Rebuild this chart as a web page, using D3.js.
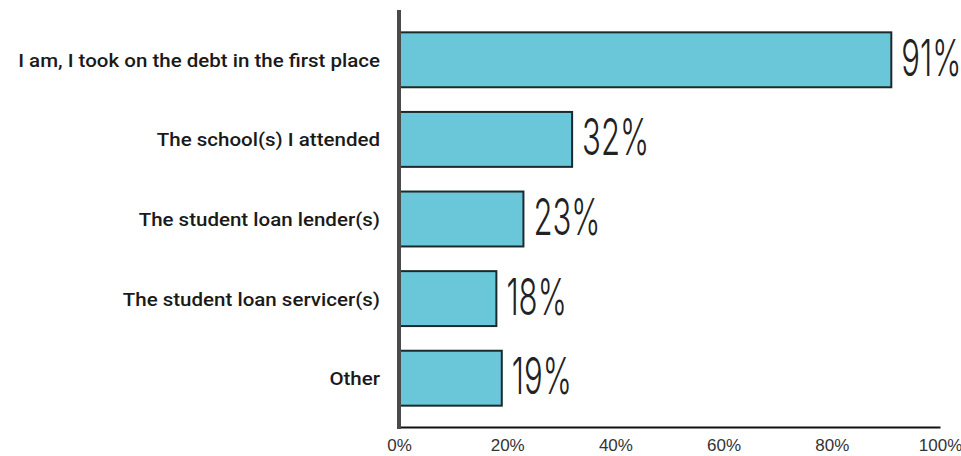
<!DOCTYPE html>
<html>
<head>
<meta charset="utf-8">
<script src="https://cdn.jsdelivr.net/npm/d3@7"></script>
<style>
  html, body { margin: 0; padding: 0; background: #fff; }
  svg { display: block; }
</style>
</head>
<body>
<svg id="chart" width="961" height="456"></svg>
<script>
// Who is responsible for the student debt
const categories = [
  "I am, I took on the debt in the first place",
  "The school(s) I attended",
  "The student loan lender(s)",
  "The student loan servicer(s)",
  "Other"
];
const values = [91, 32, 23, 18, 19];
const tickValues = [0, 20, 40, 60, 80, 100];
const tickLabels = ["0%", "20%", "40%", "60%", "80%", "100%"];

const svg = d3.select("#chart");

const x = d3.scaleLinear().domain([0, 100]).range([399, 940]);
const y = d3.scaleBand()
  .domain(categories)
  .range([20, 418])
  .paddingInner(0.31)
  .paddingOuter(0.155);

// bars
svg.append("g")
  .selectAll("rect")
  .data(values)
  .join("rect")
  .attr("x", x(0))
  .attr("y", (d, i) => y(categories[i]))
  .attr("width", d => x(d) - x(0))
  .attr("height", y.bandwidth())
  .attr("fill", "#6ac6d9")
  .attr("stroke", "#1c2a2b")
  .attr("stroke-width", 2);

// value labels, tall and condensed
svg.append("g")
  .selectAll("text")
  .data(values)
  .join("text")
  .attr("transform", (d, i) =>
    `translate(${x(d) + 10},${y(categories[i]) + y.bandwidth() / 2 + 16}) scale(0.61,1)`)
  .attr("font-family", "Inter, 'Liberation Sans', sans-serif")
  .attr("font-size", 51)
  .attr("font-weight", 300)
  .style("font-variant-numeric", "proportional-nums")
  .attr("fill", "#222")
  .text(d => d + "%");

// category labels
svg.append("g")
  .selectAll("text")
  .data(categories)
  .join("text")
  .attr("transform", d => `translate(380,${y(d) + y.bandwidth() / 2 + 7}) scale(1.08,1)`)
  .attr("text-anchor", "end")
  .attr("font-family", "Roboto, 'Liberation Sans', sans-serif")
  .attr("font-size", 19)
  .attr("font-weight", 500)
  .attr("fill", "#1a1a1a")
  .text(d => d);

// bottom axis
const xAxis = d3.axisBottom(x)
  .tickValues(tickValues)
  .tickSize(0)
  .tickPadding(0)
  .tickFormat((d, i) => tickLabels[i]);

const gx = svg.append("g")
  .attr("transform", "translate(0,427)")
  .call(xAxis);
gx.select(".domain")
  .attr("stroke", "#111")
  .attr("stroke-width", 2);
gx.selectAll(".tick text")
  .attr("y", 24)
  .attr("dy", 0)
  .attr("font-family", "'Liberation Sans', Arial, sans-serif")
  .attr("font-size", 17)
  .attr("fill", "#333");

// vertical baseline
svg.append("line")
  .attr("x1", x(0)).attr("x2", x(0))
  .attr("y1", 10).attr("y2", 429)
  .attr("stroke", "#4a4a4a")
  .attr("stroke-width", 4);
</script>
</body>
</html>
